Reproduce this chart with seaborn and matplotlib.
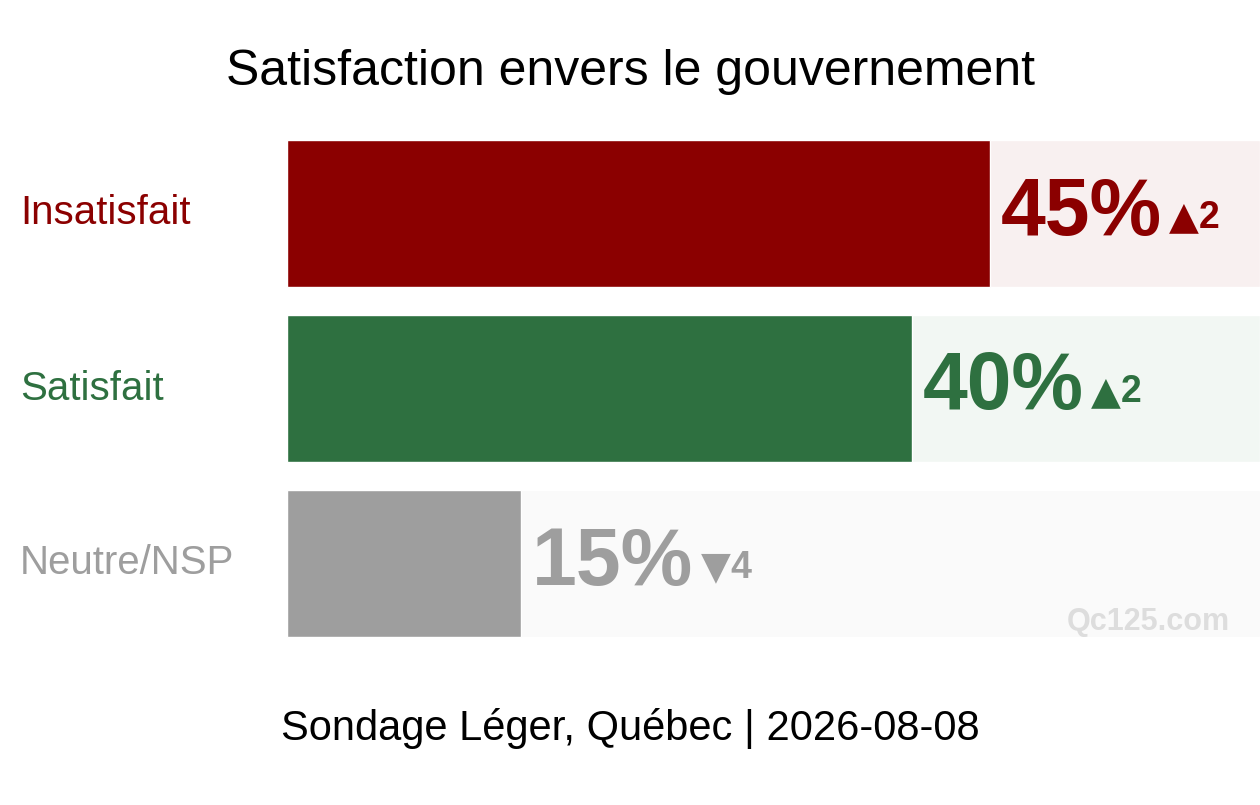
import matplotlib
matplotlib.use("Agg")
import matplotlib.pyplot as plt
import matplotlib.transforms as mtransforms
import seaborn as sns
import pandas as pd

categories = ["Insatisfait", "Satisfait", "Neutre/NSP"]
values = [45, 40, 15]
change_signs = ["▲", "▲", "▼"]
change_values = ["2", "2", "4"]
bar_colors = ["#8B0000", "#2E7040", "#9E9E9E"]
bg_colors = ["#F8F0F0", "#F2F7F3", "#FAFAFA"]
title = "Satisfaction envers le gouvernement"
footer = "Sondage Léger, Québec | 2026-08-08"
watermark = "Qc125.com"

sns.set_theme(style="white")
plt.rcParams["font.family"] = ["Liberation Sans", "DejaVu Sans"]

fig = plt.figure(figsize=(12.6, 8.05), dpi=100)
ax = fig.add_axes([287 / 1260, 1 - 651 / 805, 1 - 287 / 1260, (651 - 126) / 805])

xmax = 62.3
df = pd.DataFrame({"cat": categories, "val": values})
bg = pd.DataFrame({"cat": categories, "val": [xmax] * len(categories)})

sns.barplot(data=bg, x="val", y="cat", hue="cat", palette=bg_colors, width=0.84,
            legend=False, ax=ax, saturation=1, dodge=False)
sns.barplot(data=df, x="val", y="cat", hue="cat", palette=bar_colors, width=0.84,
            legend=False, ax=ax, saturation=1, dodge=False)

ax.set_xlim(0, xmax)
ax.set_ylim(2.5, -0.5)
ax.set_xlabel("")
ax.set_ylabel("")
ax.set_xticks([])
ax.set_yticks([])
for s in ax.spines.values():
    s.set_visible(False)

label_tr = mtransforms.blended_transform_factory(fig.transFigure, ax.transData)
for i, (cat, val, sg, cv, col) in enumerate(zip(categories, values, change_signs,
                                                change_values, bar_colors)):
    ax.text(20 / 1260, i, cat, transform=label_tr, ha="left", va="center",
            fontsize=29, color=col)
    vtr = mtransforms.offset_copy(ax.transData, fig=fig, x=11, y=-21, units="dots")
    t = ax.text(val, i, f"{val}%", transform=vtr, ha="left", va="baseline",
                fontsize=58, fontweight="bold", color=col)
    a = ax.annotate(sg, xy=(1, 0), xycoords=t, xytext=(7, 15),
                    textcoords="offset pixels", ha="left", va="bottom",
                    fontsize=28, color=col, family=["DejaVu Sans"])
    ax.annotate(cv, xy=(1, 0), xycoords=a, xytext=(0, 1),
                textcoords="offset pixels", ha="left", va="bottom",
                fontsize=27, fontweight="bold", color=col)

fig.text(1230 / 1260, 1 - 630 / 805, watermark, ha="right", va="baseline",
         fontsize=22, fontweight="bold", color="#DDDDDD")
fig.text(0.5, 1 - 85 / 805, title, ha="center", va="baseline", fontsize=36, color="black")
fig.text(0.5, 1 - 740 / 805, footer, ha="center", va="baseline", fontsize=30, color="black")

fig.savefig("out.png", dpi=100)
